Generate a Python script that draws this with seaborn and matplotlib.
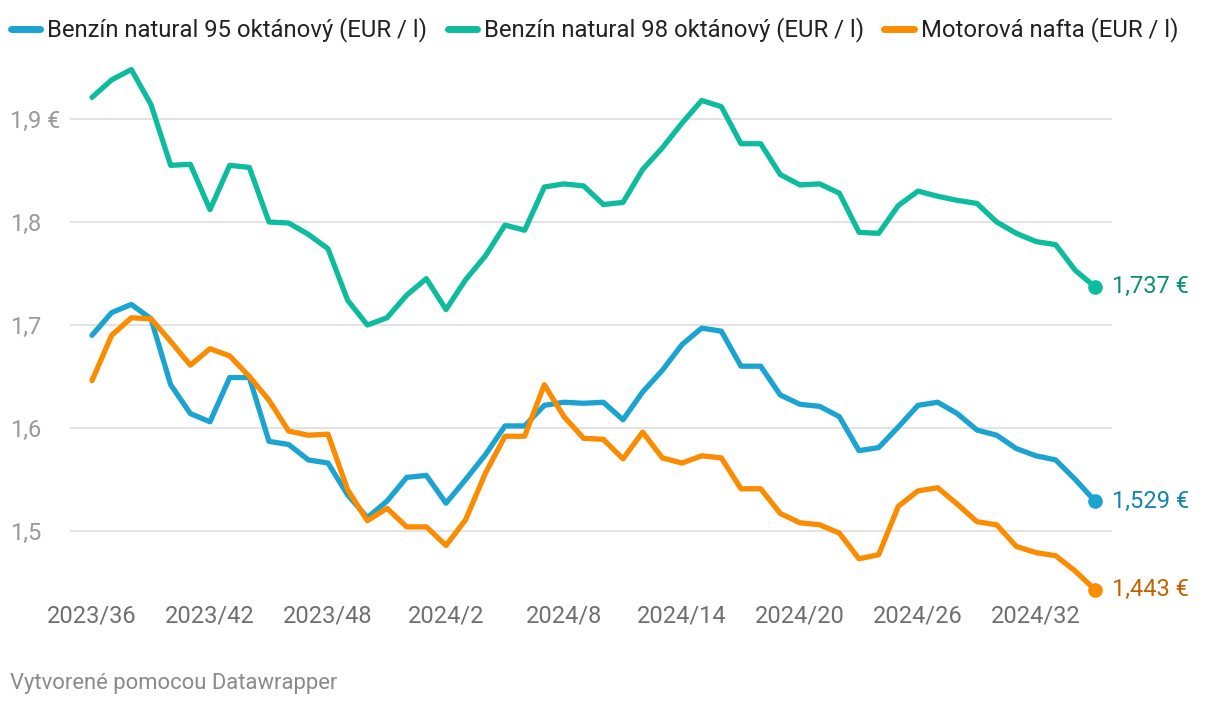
import matplotlib
matplotlib.use("Agg")
import matplotlib.pyplot as plt
import seaborn as sns
import pandas as pd
import numpy as np

weeks = [f"2023/{w}" for w in range(36, 53)] + [f"2024/{w}" for w in range(1, 36)]

benzin95 = [1.690, 1.712, 1.720, 1.706, 1.642, 1.614, 1.606, 1.649, 1.649, 1.587,
            1.584, 1.569, 1.566, 1.535, 1.513, 1.529, 1.552, 1.554, 1.527, 1.550,
            1.574, 1.602, 1.602, 1.622, 1.625, 1.624, 1.625, 1.608, 1.635, 1.656,
            1.681, 1.697, 1.694, 1.660, 1.660, 1.632, 1.623, 1.621, 1.611, 1.578,
            1.581, 1.601, 1.622, 1.625, 1.614, 1.598, 1.593, 1.580, 1.573, 1.569,
            1.550, 1.529]

benzin98 = [1.921, 1.938, 1.948, 1.914, 1.855, 1.856, 1.812, 1.855, 1.853, 1.800,
            1.799, 1.788, 1.774, 1.724, 1.700, 1.707, 1.729, 1.745, 1.715, 1.744,
            1.767, 1.797, 1.792, 1.834, 1.837, 1.835, 1.817, 1.819, 1.851, 1.872,
            1.896, 1.918, 1.912, 1.876, 1.876, 1.846, 1.836, 1.837, 1.828, 1.790,
            1.789, 1.816, 1.830, 1.825, 1.821, 1.818, 1.800, 1.789, 1.781, 1.778,
            1.753, 1.737]

nafta = [1.646, 1.690, 1.707, 1.706, 1.684, 1.661, 1.677, 1.670, 1.650, 1.627,
         1.597, 1.593, 1.594, 1.540, 1.510, 1.522, 1.504, 1.504, 1.486, 1.511,
         1.556, 1.592, 1.592, 1.642, 1.611, 1.590, 1.589, 1.570, 1.596, 1.571,
         1.566, 1.573, 1.571, 1.541, 1.541, 1.517, 1.508, 1.506, 1.498, 1.473,
         1.477, 1.524, 1.539, 1.542, 1.526, 1.509, 1.506, 1.485, 1.479, 1.476,
         1.461, 1.443]

series_names = ["Benzín natural 95 oktánový (EUR / l)",
                "Benzín natural 98 oktánový (EUR / l)",
                "Motorová nafta (EUR / l)"]
end_labels = ["1,529 €", "1,737 €", "1,443 €"]
y_ticks = [1.5, 1.6, 1.7, 1.8, 1.9]
y_tick_labels = ["1,5", "1,6", "1,7", "1,8", "1,9 €"]
x_tick_idx = list(range(0, 52, 6))

line_colors = ["#1ba3d1", "#0dbc9c", "#fb8c00"]
label_colors = ["#1485b3", "#0a8f76", "#c06400"]

sns.set_theme(style="white")
plt.rcParams["font.family"] = ["Roboto", "DejaVu Sans"]

df = pd.DataFrame({
    "idx": list(range(len(weeks))) * 3,
    "value": benzin95 + benzin98 + nafta,
    "series": sum([[n] * len(weeks) for n in series_names], []),
})

W, H = 1220, 706
fig = plt.figure(figsize=(W / 100, H / 100), dpi=100)
ax_l, ax_r, ax_t, ax_b = 70, 1112, 60, 600
ax = fig.add_axes([ax_l / W, 1 - ax_b / H, (ax_r - ax_l) / W, (ax_b - ax_t) / H])

px_per = (1095 - 92) / 51
ax.set_xlim(-(92 - ax_l) / px_per, 51 + (ax_r - 1095) / px_per)
ypx = 1030.0
ax.set_ylim(1.9 - (ax_b - 119) / ypx, 1.9 + (119 - ax_t) / ypx)

for yv in y_ticks:
    ax.axhline(yv, color="#e3e3e3", lw=1.4, zorder=0)

sns.lineplot(data=df, x="idx", y="value", hue="series", hue_order=series_names,
             palette=line_colors, linewidth=3.8, ax=ax, legend=False,
             solid_capstyle="round", solid_joinstyle="round", clip_on=False)

for vals, c, lc, lab in zip([benzin95, benzin98, nafta], line_colors, label_colors, end_labels):
    ax.plot([len(vals) - 1], [vals[-1]], "o", color=c, markersize=9.5, clip_on=False, zorder=5)
    ax.annotate(lab, xy=(len(vals) - 1, vals[-1]), xytext=(12, 0), textcoords="offset points",
                va="center", ha="left", color=lc, fontsize=17, annotation_clip=False)

for s in ax.spines.values():
    s.set_visible(False)

ax.set_yticks(y_ticks)
ax.set_yticklabels(y_tick_labels)
ax.tick_params(axis="y", length=0, pad=0, labelsize=17, labelcolor="#9a9a9a")
for t in ax.get_yticklabels():
    t.set_horizontalalignment("left")
    t.set_x(-(ax_l - 10) / (ax_r - ax_l))
    t.set_transform(ax.get_yaxis_transform())

ax.set_xticks(x_tick_idx)
ax.set_xticklabels([weeks[i] for i in x_tick_idx])
ax.tick_params(axis="x", length=0, pad=3, labelsize=17, labelcolor="#6f6f6f")
ax.set_xlabel("")
ax.set_ylabel("")

# legend
handles = [plt.Line2D([0], [0], color=c, lw=5, solid_capstyle="round") for c in line_colors]
fig.legend(handles, series_names, loc="center left", bbox_to_anchor=(11 / W, 1 - 30 / H),
           ncol=3, frameon=False, fontsize=17.2, handlelength=1.22, handletextpad=0.3,
           columnspacing=0.85, labelcolor="#222222", borderpad=0, borderaxespad=0)

fig.text(10 / W, 1 - 683 / H, "Vytvorené pomocou Datawrapper", fontsize=15.8,
         color="#8a8a8a", ha="left", va="center")

fig.savefig("out.png", dpi=100, facecolor="white")
